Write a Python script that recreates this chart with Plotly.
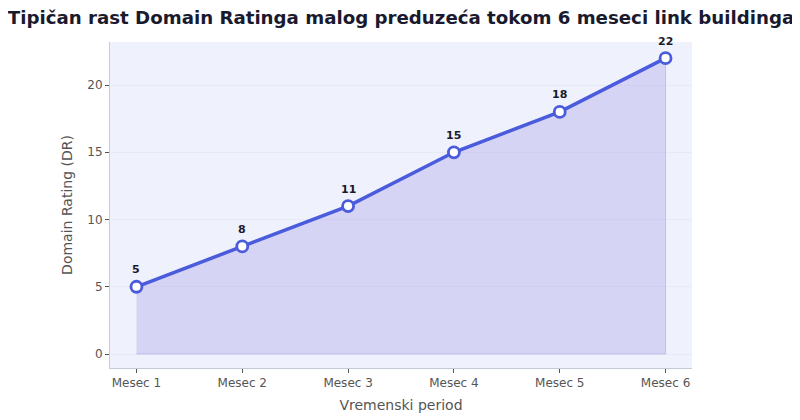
import plotly.graph_objects as go

months = ["Mesec 1", "Mesec 2", "Mesec 3", "Mesec 4", "Mesec 5", "Mesec 6"]
dr_values = [5, 8, 11, 15, 18, 22]
y_ticks = [0, 5, 10, 15, 20]

LINE = "#4a5bdc"
FONT = "DejaVu Sans"

fig = go.Figure()

# filled area (polygon down to zero, like fill_between)
fig.add_trace(go.Scatter(
    x=months + months[::-1],
    y=dr_values + [0] * len(months),
    fill="toself",
    fillcolor="rgba(185,175,235,0.45)",
    line=dict(color="rgba(140,130,210,0.35)", width=1),
    mode="lines",
    hoverinfo="skip",
    showlegend=False,
))

fig.add_trace(go.Scatter(
    x=months,
    y=dr_values,
    mode="lines+markers",
    line=dict(color=LINE, width=3.5),
    marker=dict(size=11, color="white", line=dict(color=LINE, width=2.8)),
    showlegend=False,
))

for m, v in zip(months, dr_values):
    fig.add_annotation(
        x=m, y=v, text=f"<b>{v}</b>", showarrow=False,
        yshift=17, font=dict(family=FONT, size=11, color="#1a1a2e"),
    )

fig.update_layout(
    width=800, height=420,
    margin=dict(l=102, r=116, t=34, b=60, autoexpand=False),
    paper_bgcolor="white",
    plot_bgcolor="#eff2fd",
    font=dict(family=FONT, color="#555555"),
    title=dict(
        text="<b>Tipičan rast Domain Ratinga malog preduzeća tokom 6 meseci link buildinga</b>",
        x=0.5, xref="paper", xanchor="center", y=0.976, yanchor="middle",
        font=dict(family=FONT, size=18.2, color="#1a1a2e"),
    ),
)

fig.update_xaxes(
    type="category",
    range=[-0.25, 5.25],
    automargin=False,
    showgrid=False,
    showline=True, linecolor="#c5cad8", linewidth=1,
    ticks="outside", ticklen=4, tickcolor="#555555",
    tickfont=dict(family=FONT, size=12, color="#555555"),
    title=dict(text="Vremenski period", font=dict(family=FONT, size=14, color="#555555"), standoff=10),
    zeroline=False,
)
fig.update_yaxes(
    range=[-1.04, 23.2],
    automargin=False,
    tickvals=y_ticks,
    showgrid=True, gridcolor="#e6e9f6", gridwidth=1,
    showline=True, linecolor="#c5cad8", linewidth=1,
    ticks="outside", ticklen=4, tickcolor="#555555",
    tickfont=dict(family=FONT, size=12, color="#555555"),
    title=dict(text="Domain Rating (DR)", font=dict(family=FONT, size=14, color="#555555"), standoff=11),
    zeroline=False,
)

fig.write_html("out.html")
